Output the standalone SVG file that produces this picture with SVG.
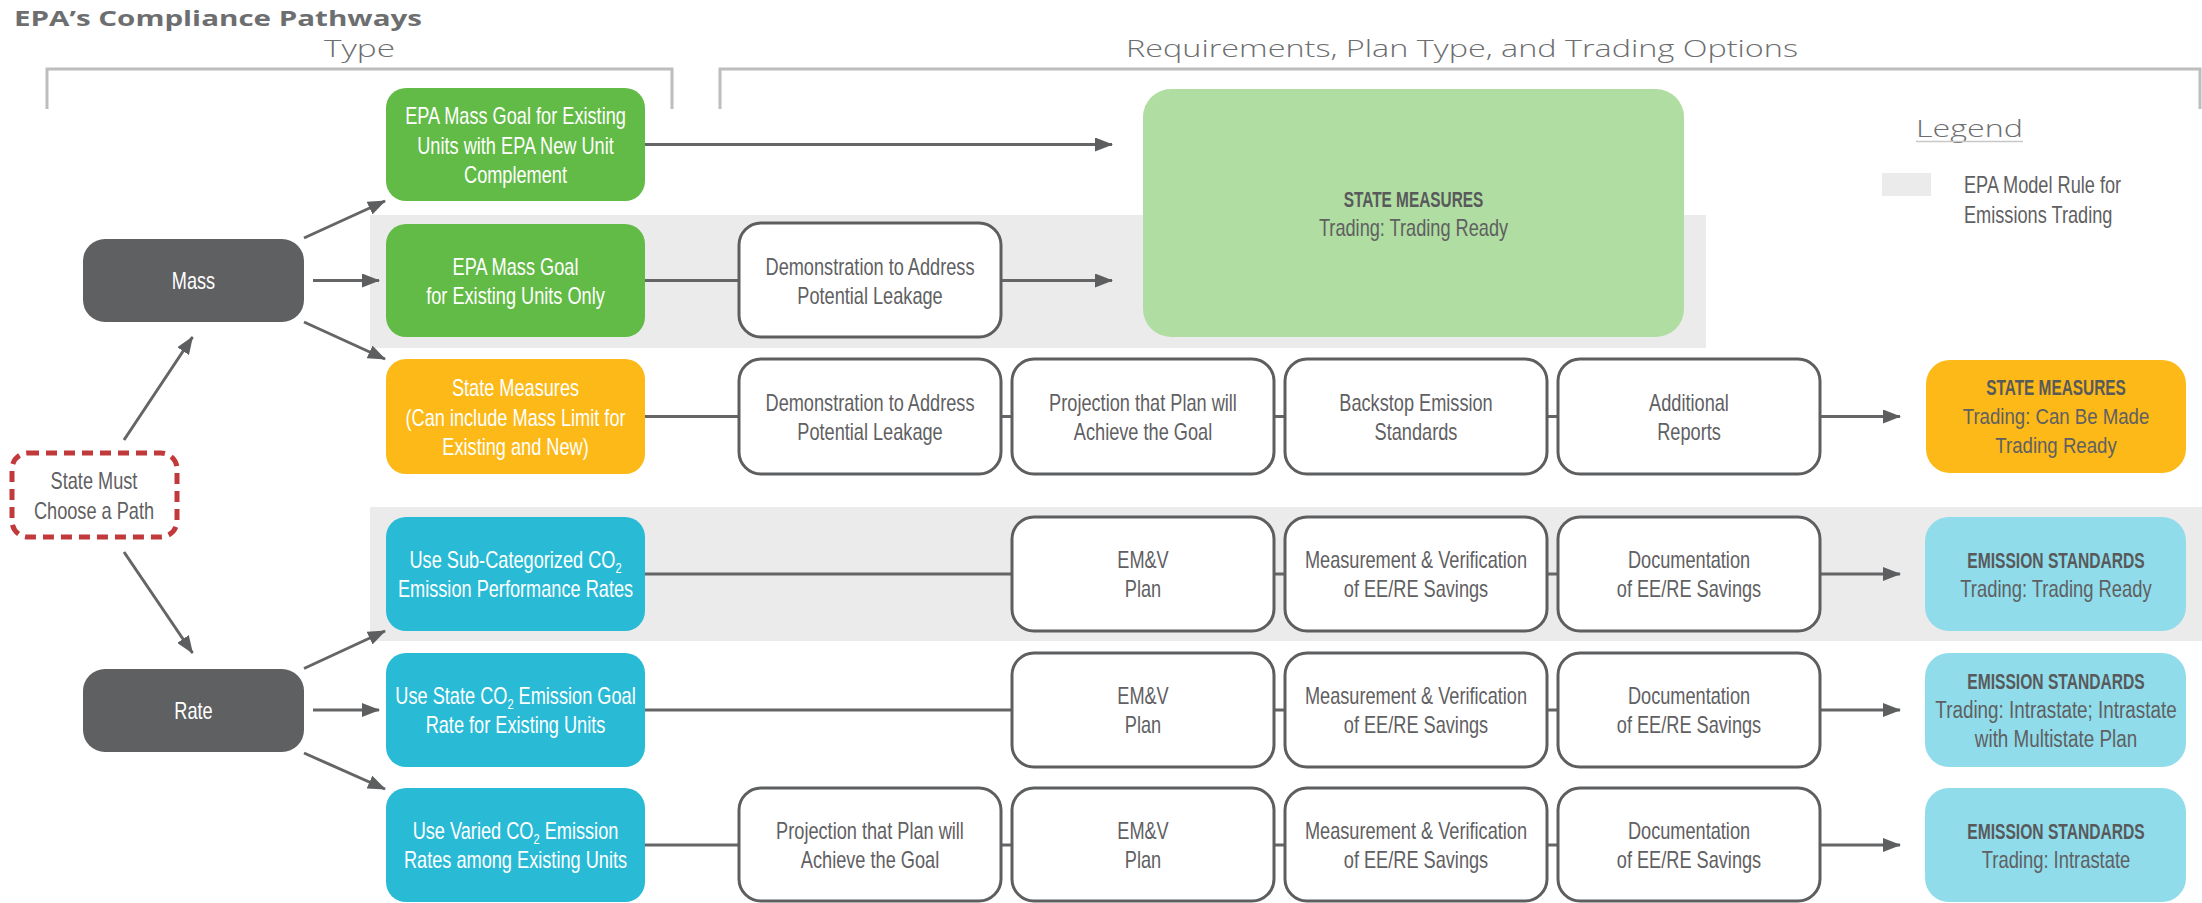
<svg xmlns="http://www.w3.org/2000/svg" width="2202" height="903" viewBox="0 0 2202 903">
  <style>
    .t { font-family: "Liberation Sans", Arial, sans-serif; font-size: 23px; text-anchor: middle; fill: #5f6062; }
    .w { fill: #ffffff; }
    .hd { font-family: "Liberation Sans", Arial, sans-serif; font-size: 22px; font-weight: bold; text-anchor: middle; fill: #58595b; }
    .head { font-family: "Open Sans", "Liberation Sans", sans-serif; fill: #6d6e70; }
    .box { fill: #ffffff; stroke: #5d5e60; stroke-width: 3; }
    .dark { fill: #5f6062; }
    .green { fill: #62bb46; }
    .lgreen { fill: #b0dda1; }
    .orange { fill: #fcb918; }
    .blue { fill: #29bbd6; }
    .lblue { fill: #90dcea; }
    .band { fill: #ebebeb; }
    .edge { stroke: #646567; stroke-width: 3; fill: none; }
    .arrow { marker-end: url(#arr); }
    .bracket { stroke: #bdbdbd; stroke-width: 3; fill: none; }
  </style>
  <defs>
    <marker id="arr" markerWidth="18" markerHeight="14" refX="17" refY="7" orient="auto" markerUnits="userSpaceOnUse">
      <path d="M0,0 L18,7 L0,14 Z" fill="#5d5e60"/>
    </marker>
  </defs>

  <rect width="2202" height="903" fill="#ffffff"/>

  <!-- headings and brackets -->
  <g id="headings">
    <text class="head" x="14" y="26" font-size="22" font-weight="bold" fill="#5f6062" textLength="408" lengthAdjust="spacingAndGlyphs">EPA’s Compliance Pathways</text>
    <text class="head" x="324" y="57" font-size="23" font-weight="300" textLength="71" lengthAdjust="spacingAndGlyphs">Type</text>
    <text class="head" x="1126" y="57" font-size="23" font-weight="300" textLength="672" lengthAdjust="spacingAndGlyphs">Requirements, Plan Type, and Trading Options</text>
    <path class="bracket" d="M47,109 V69 H672 V109"/>
    <path class="bracket" d="M720,109 V69 H2200 V109"/>
  </g>

  <!-- shaded bands: EPA model rule for emissions trading -->
  <g id="bands">
    <rect class="band" x="370" y="215" width="1336" height="133"/>
    <rect class="band" x="370" y="507" width="1832" height="134"/>
  </g>

  <!-- legend -->
  <g id="legend">
    <text class="head" x="1916" y="137" font-size="23" font-weight="300" textLength="107" lengthAdjust="spacingAndGlyphs">Legend</text>
    <line x1="1916" y1="141.5" x2="2023" y2="141.5" stroke="#c8c8c8" stroke-width="1.5"/>
    <rect class="band" x="1882" y="173" width="49" height="23"/>
    <text class="t" style="text-anchor:start" transform="translate(1964 0) scale(0.79 1)"><tspan x="0" y="193">EPA Model Rule for</tspan><tspan x="0" y="223">Emissions Trading</tspan></text>
  </g>

  <!-- connectors -->
  <g id="connectors">
    <path class="edge arrow" d="M124,440 L192.5,337"/>
    <path class="edge arrow" d="M124,552 L192.5,653"/>
    <path class="edge arrow" d="M304,238 L385,201"/>
    <path class="edge arrow" d="M313,280.5 L379,280.5"/>
    <path class="edge arrow" d="M304,322 L385,359"/>
    <path class="edge arrow" d="M304,668.5 L385,631"/>
    <path class="edge arrow" d="M313,710 L379,710"/>
    <path class="edge arrow" d="M304,753 L385,789"/>

    <path class="edge arrow" d="M645,144.5 H1112"/>
    <path class="edge" d="M645,280.5 H739"/>
    <path class="edge arrow" d="M1000,280.5 H1112"/>

    <path class="edge" d="M645,416.5 H739 M1001,416.5 H1012 M1274,416.5 H1285 M1547,416.5 H1558"/>
    <path class="edge arrow" d="M1820,416.5 H1900"/>

    <path class="edge" d="M645,574 H1012 M1274,574 H1285 M1547,574 H1558"/>
    <path class="edge arrow" d="M1820,574 H1900"/>

    <path class="edge" d="M645,710 H1012 M1274,710 H1285 M1547,710 H1558"/>
    <path class="edge arrow" d="M1820,710 H1900"/>

    <path class="edge" d="M645,845 H739 M1001,845 H1012 M1274,845 H1285 M1547,845 H1558"/>
    <path class="edge arrow" d="M1820,845 H1900"/>
  </g>

  <!-- start -->
  <g id="choose-path">
    <rect x="12" y="453" width="165" height="84" rx="16" fill="#ffffff" stroke="#c1393b" stroke-width="5" stroke-dasharray="11 7"/>
    <text class="t" transform="translate(94 495) scale(0.79 1)"><tspan x="0" y="-6">State Must</tspan><tspan x="0" y="24">Choose a Path</tspan></text>
  </g>

  <!-- type nodes -->
  <g id="mass">
    <rect class="dark" x="83" y="239" width="221" height="83" rx="22"/>
    <text class="t w" transform="translate(193.5 288.5) scale(0.79 1)">Mass</text>
  </g>
  <g id="rate">
    <rect class="dark" x="83" y="669" width="221" height="83" rx="22"/>
    <text class="t w" transform="translate(193.5 718.5) scale(0.79 1)">Rate</text>
  </g>

  <!-- pathway nodes -->
  <g id="mass-goal-new-unit">
    <rect class="green" x="386" y="88" width="259" height="113" rx="20"/>
    <text class="t w" transform="translate(515.5 144.5) scale(0.79 1)"><tspan x="0" y="-21">EPA Mass Goal for Existing</tspan><tspan x="0" y="9">Units with EPA New Unit</tspan><tspan x="0" y="39">Complement</tspan></text>
  </g>
  <g id="mass-goal-existing">
    <rect class="green" x="386" y="224" width="259" height="113" rx="20"/>
    <text class="t w" transform="translate(515.5 280.5) scale(0.79 1)"><tspan x="0" y="-6">EPA Mass Goal</tspan><tspan x="0" y="23.5">for Existing Units Only</tspan></text>
  </g>
  <g id="state-measures">
    <rect class="orange" x="386" y="359" width="259" height="115" rx="20"/>
    <text class="t w" transform="translate(515.5 416.5) scale(0.79 1)"><tspan x="0" y="-21">State Measures</tspan><tspan x="0" y="9">(Can include Mass Limit for</tspan><tspan x="0" y="39">Existing and New)</tspan></text>
  </g>
  <g id="sub-categorized-rates">
    <rect class="blue" x="386" y="517" width="259" height="114" rx="20"/>
    <text class="t w" transform="translate(515.5 574) scale(0.79 1)"><tspan x="0" y="-6">Use Sub-Categorized CO<tspan font-size="14" dy="5">2</tspan></tspan><tspan x="0" y="23.5">Emission Performance Rates</tspan></text>
  </g>
  <g id="state-goal-rate">
    <rect class="blue" x="386" y="653" width="259" height="114" rx="20"/>
    <text class="t w" transform="translate(515.5 710) scale(0.79 1)"><tspan x="0" y="-6">Use State CO<tspan font-size="14" dy="5">2</tspan><tspan dy="-5"> Emission Goal</tspan></tspan><tspan x="0" y="23.5">Rate for Existing Units</tspan></text>
  </g>
  <g id="varied-rates">
    <rect class="blue" x="386" y="788" width="259" height="114" rx="20"/>
    <text class="t w" transform="translate(515.5 845) scale(0.79 1)"><tspan x="0" y="-6">Use Varied CO<tspan font-size="14" dy="5">2</tspan><tspan dy="-5"> Emission</tspan></tspan><tspan x="0" y="23.5">Rates among Existing Units</tspan></text>
  </g>

  <!-- requirement steps -->
  <g id="r2-leakage">
    <rect class="box" x="739" y="223" width="262" height="114" rx="22"/>
    <text class="t" transform="translate(870 280.5) scale(0.79 1)"><tspan x="0" y="-6">Demonstration to Address</tspan><tspan x="0" y="23.5">Potential Leakage</tspan></text>
  </g>

  <g id="r3-leakage">
    <rect class="box" x="739" y="359" width="262" height="115" rx="22"/>
    <text class="t" transform="translate(870 416.5) scale(0.79 1)"><tspan x="0" y="-6">Demonstration to Address</tspan><tspan x="0" y="23.5">Potential Leakage</tspan></text>
  </g>
  <g id="r3-projection">
    <rect class="box" x="1012" y="359" width="262" height="115" rx="22"/>
    <text class="t" transform="translate(1143 416.5) scale(0.79 1)"><tspan x="0" y="-6">Projection that Plan will</tspan><tspan x="0" y="23.5">Achieve the Goal</tspan></text>
  </g>
  <g id="r3-backstop">
    <rect class="box" x="1285" y="359" width="262" height="115" rx="22"/>
    <text class="t" transform="translate(1416 416.5) scale(0.79 1)"><tspan x="0" y="-6">Backstop Emission</tspan><tspan x="0" y="23.5">Standards</tspan></text>
  </g>
  <g id="r3-reports">
    <rect class="box" x="1558" y="359" width="262" height="115" rx="22"/>
    <text class="t" transform="translate(1689 416.5) scale(0.79 1)"><tspan x="0" y="-6">Additional</tspan><tspan x="0" y="23.5">Reports</tspan></text>
  </g>

  <g id="r4-emv">
    <rect class="box" x="1012" y="517" width="262" height="114" rx="22"/>
    <text class="t" transform="translate(1143 574) scale(0.79 1)"><tspan x="0" y="-6">EM&amp;V</tspan><tspan x="0" y="23.5">Plan</tspan></text>
  </g>
  <g id="r4-verification">
    <rect class="box" x="1285" y="517" width="262" height="114" rx="22"/>
    <text class="t" transform="translate(1416 574) scale(0.79 1)"><tspan x="0" y="-6">Measurement &amp; Verification</tspan><tspan x="0" y="23.5">of EE/RE Savings</tspan></text>
  </g>
  <g id="r4-documentation">
    <rect class="box" x="1558" y="517" width="262" height="114" rx="22"/>
    <text class="t" transform="translate(1689 574) scale(0.79 1)"><tspan x="0" y="-6">Documentation</tspan><tspan x="0" y="23.5">of EE/RE Savings</tspan></text>
  </g>

  <g id="r5-emv">
    <rect class="box" x="1012" y="653" width="262" height="114" rx="22"/>
    <text class="t" transform="translate(1143 710) scale(0.79 1)"><tspan x="0" y="-6">EM&amp;V</tspan><tspan x="0" y="23.5">Plan</tspan></text>
  </g>
  <g id="r5-verification">
    <rect class="box" x="1285" y="653" width="262" height="114" rx="22"/>
    <text class="t" transform="translate(1416 710) scale(0.79 1)"><tspan x="0" y="-6">Measurement &amp; Verification</tspan><tspan x="0" y="23.5">of EE/RE Savings</tspan></text>
  </g>
  <g id="r5-documentation">
    <rect class="box" x="1558" y="653" width="262" height="114" rx="22"/>
    <text class="t" transform="translate(1689 710) scale(0.79 1)"><tspan x="0" y="-6">Documentation</tspan><tspan x="0" y="23.5">of EE/RE Savings</tspan></text>
  </g>

  <g id="r6-projection">
    <rect class="box" x="739" y="788" width="262" height="113" rx="22"/>
    <text class="t" transform="translate(870 845) scale(0.79 1)"><tspan x="0" y="-6">Projection that Plan will</tspan><tspan x="0" y="23.5">Achieve the Goal</tspan></text>
  </g>
  <g id="r6-emv">
    <rect class="box" x="1012" y="788" width="262" height="113" rx="22"/>
    <text class="t" transform="translate(1143 845) scale(0.79 1)"><tspan x="0" y="-6">EM&amp;V</tspan><tspan x="0" y="23.5">Plan</tspan></text>
  </g>
  <g id="r6-verification">
    <rect class="box" x="1285" y="788" width="262" height="113" rx="22"/>
    <text class="t" transform="translate(1416 845) scale(0.79 1)"><tspan x="0" y="-6">Measurement &amp; Verification</tspan><tspan x="0" y="23.5">of EE/RE Savings</tspan></text>
  </g>
  <g id="r6-documentation">
    <rect class="box" x="1558" y="788" width="262" height="113" rx="22"/>
    <text class="t" transform="translate(1689 845) scale(0.79 1)"><tspan x="0" y="-6">Documentation</tspan><tspan x="0" y="23.5">of EE/RE Savings</tspan></text>
  </g>

  <!-- outcomes -->
  <g id="out-mass-trading-ready">
    <rect class="lgreen" x="1143" y="89" width="541" height="248" rx="28"/>
    <text class="hd" transform="translate(1413.5 207) scale(0.7 1)">STATE MEASURES</text>
    <text class="t" transform="translate(1413.5 236) scale(0.79 1)">Trading: Trading Ready</text>
  </g>
  <g id="out-state-measures">
    <rect class="orange" x="1926" y="360" width="260" height="113" rx="24"/>
    <text class="hd" transform="translate(2056 395) scale(0.7 1)">STATE MEASURES</text>
    <text class="t" transform="translate(2056 424) scale(0.81 1)"><tspan x="0" y="0">Trading: Can Be Made</tspan><tspan x="0" y="29">Trading Ready</tspan></text>
  </g>
  <g id="out-emission-ready">
    <rect class="lblue" x="1925" y="517" width="261" height="114" rx="24"/>
    <text class="hd" transform="translate(2056 568) scale(0.71 1)">EMISSION STANDARDS</text>
    <text class="t" transform="translate(2056 597) scale(0.8 1)">Trading: Trading Ready</text>
  </g>
  <g id="out-emission-multistate">
    <rect class="lblue" x="1925" y="653" width="261" height="114" rx="24"/>
    <text class="hd" transform="translate(2056 689) scale(0.71 1)">EMISSION STANDARDS</text>
    <text class="t" transform="translate(2056 718) scale(0.82 1)"><tspan x="0" y="0">Trading: Intrastate; Intrastate</tspan><tspan x="0" y="29">with Multistate Plan</tspan></text>
  </g>
  <g id="out-emission-intrastate">
    <rect class="lblue" x="1925" y="788" width="261" height="114" rx="24"/>
    <text class="hd" transform="translate(2056 839) scale(0.71 1)">EMISSION STANDARDS</text>
    <text class="t" transform="translate(2056 868) scale(0.8 1)">Trading: Intrastate</text>
  </g>
</svg>
